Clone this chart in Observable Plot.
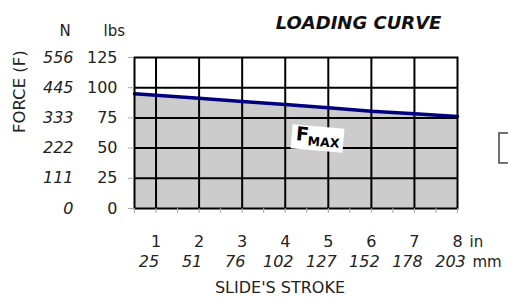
<!DOCTYPE html>
<html>
<head>
<meta charset="utf-8">
<script src="https://cdn.jsdelivr.net/npm/d3@7"></script>
<script src="https://cdn.jsdelivr.net/npm/@observablehq/plot@0.6"></script>
<style>
  html, body { margin: 0; padding: 0; background: white; }
</style>
</head>
<body>
<div id="chart"></div>
<script>
// Stroke (inches) and maximum load (lbs)
const strokeIn = [0.5, 1, 2, 3, 4, 5, 6, 7, 8];
const fmaxLbs = [94.9, 93.8, 91.3, 88.6, 86.1, 83.4, 80.5, 78.4, 76.2];

// Tick labels
const inchTicks = [1, 2, 3, 4, 5, 6, 7, 8];
const mmLabels = ["25", "51", "76", "102", "127", "152", "178", "203"];
const lbsTicks = [0, 25, 50, 75, 100, 125];
const newtonLabels = ["0", "111", "222", "333", "445", "556"];
const halfTicks = [0.5, 1, 1.5, 2, 2.5, 3, 3.5, 4, 4.5, 5, 5.5, 6, 6.5, 7, 7.5, 8];

// F_MAX label anchor and partial box at the right edge
const fmaxLabel = [{x: 4.75, y: 57.9}];
const sideBox = [{x1: 8.975, x2: 9.6, y1: 37.3, y2: 62.1}];

const data = strokeIn.map((x, i) => ({x, y: fmaxLbs[i]}));

// fixed-size label background (52 x 24 px)
const rectSymbol = {
  draw(ctx) {
    const w = 52, h = 24;
    ctx.moveTo(-w / 2, -h / 2);
    ctx.lineTo(w / 2, -h / 2);
    ctx.lineTo(w / 2, h / 2);
    ctx.lineTo(-w / 2, h / 2);
    ctx.closePath();
  }
};

const chart = Plot.plot({
  width: 508,
  height: 303,
  marginLeft: 134,
  marginRight: 51,
  marginTop: 57,
  marginBottom: 95,
  x: {domain: [0.5, 8], label: null},
  y: {domain: [0, 125], label: null},
  style: {fontFamily: "'DejaVu Sans', sans-serif", fontSize: "16px", color: "#222", background: "white", overflow: "visible"},
  marks: [
    Plot.areaY(data, {x: "x", y: "y", fill: "#cccccc"}),
    Plot.ruleX(inchTicks.slice(0, 7), {stroke: "black", strokeWidth: 2}),
    Plot.ruleY([25, 50, 75, 100], {stroke: "black", strokeWidth: 2}),
    Plot.lineY(data, {x: "x", y: "y", stroke: "#00007f", strokeWidth: 3.5}),
    Plot.frame({stroke: "black", strokeWidth: 2}),
    // minor ticks under the x axis
    Plot.axisX({ticks: halfTicks, tickSize: 5, tickFormat: () => "", stroke: "#aaa", label: null}),
    // y axis (lbs)
    Plot.axisY({ticks: lbsTicks, tickSize: 6, tickPadding: 11, stroke: "#aaa", fill: "#222", label: null, fontSize: 16}),
    // y axis (N)
    Plot.text(lbsTicks, {y: d => d, text: (d, i) => newtonLabels[i], frameAnchor: "left", dx: -61, textAnchor: "end", fontStyle: "italic", fontSize: 16, fill: "#222"}),
    Plot.text(["N"], {frameAnchor: "top-left", dx: -75, dy: -32, fontSize: 15, fill: "#222"}),
    Plot.text(["lbs"], {frameAnchor: "top-left", dx: -31, dy: -32, fontSize: 15, fill: "#222"}),
    Plot.text(["FORCE (F)"], {frameAnchor: "left", dx: -115, rotate: -90, fontSize: 16.5, fill: "#222"}),
    // x labels
    Plot.text(inchTicks, {x: d => d, text: d => String(d), frameAnchor: "bottom", dy: 38, fontSize: 16, fill: "#222"}),
    Plot.text(["in"], {x: [8], frameAnchor: "bottom", dx: 12, dy: 38, textAnchor: "start", fontSize: 15, fill: "#222"}),
    Plot.text(inchTicks, {x: d => d, text: (d, i) => mmLabels[i], frameAnchor: "bottom", dx: -7, dy: 58, fontStyle: "italic", fontSize: 16, fill: "#222"}),
    Plot.text(["mm"], {x: [8], frameAnchor: "bottom", dx: 15, dy: 58, textAnchor: "start", fontSize: 15, fill: "#222"}),
    Plot.text(["SLIDE'S STROKE"], {frameAnchor: "bottom", dx: -16, dy: 84, fontSize: 16, fill: "#222"}),
    // title
    Plot.text(["LOADING CURVE"], {frameAnchor: "top-right", textAnchor: "middle", dx: -99, dy: -41, fontSize: 18, fontWeight: "bold", fontStyle: "italic", fill: "#111"}),
    // F_MAX label
    Plot.dot(fmaxLabel, {x: "x", y: "y", r: 12, symbol: rectSymbol, fill: "white", stroke: "none", rotate: 5}),
    Plot.text(fmaxLabel, {x: "x", y: "y", text: () => "F", dx: -15, dy: -4, rotate: 5, fontSize: 19, fontWeight: "bold", fill: "black"}),
    Plot.text(fmaxLabel, {x: "x", y: "y", text: () => "MAX", dx: 6, dy: 4, rotate: 5, fontSize: 12.5, fontWeight: "bold", fill: "black"}),
    // partial box at right edge
    Plot.rect(sideBox, {x1: "x1", x2: "x2", y1: "y1", y2: "y2", fill: "none", stroke: "#444", strokeWidth: 1.5, clip: false})
  ]
});

document.getElementById("chart").appendChild(chart);
</script>
</body>
</html>
